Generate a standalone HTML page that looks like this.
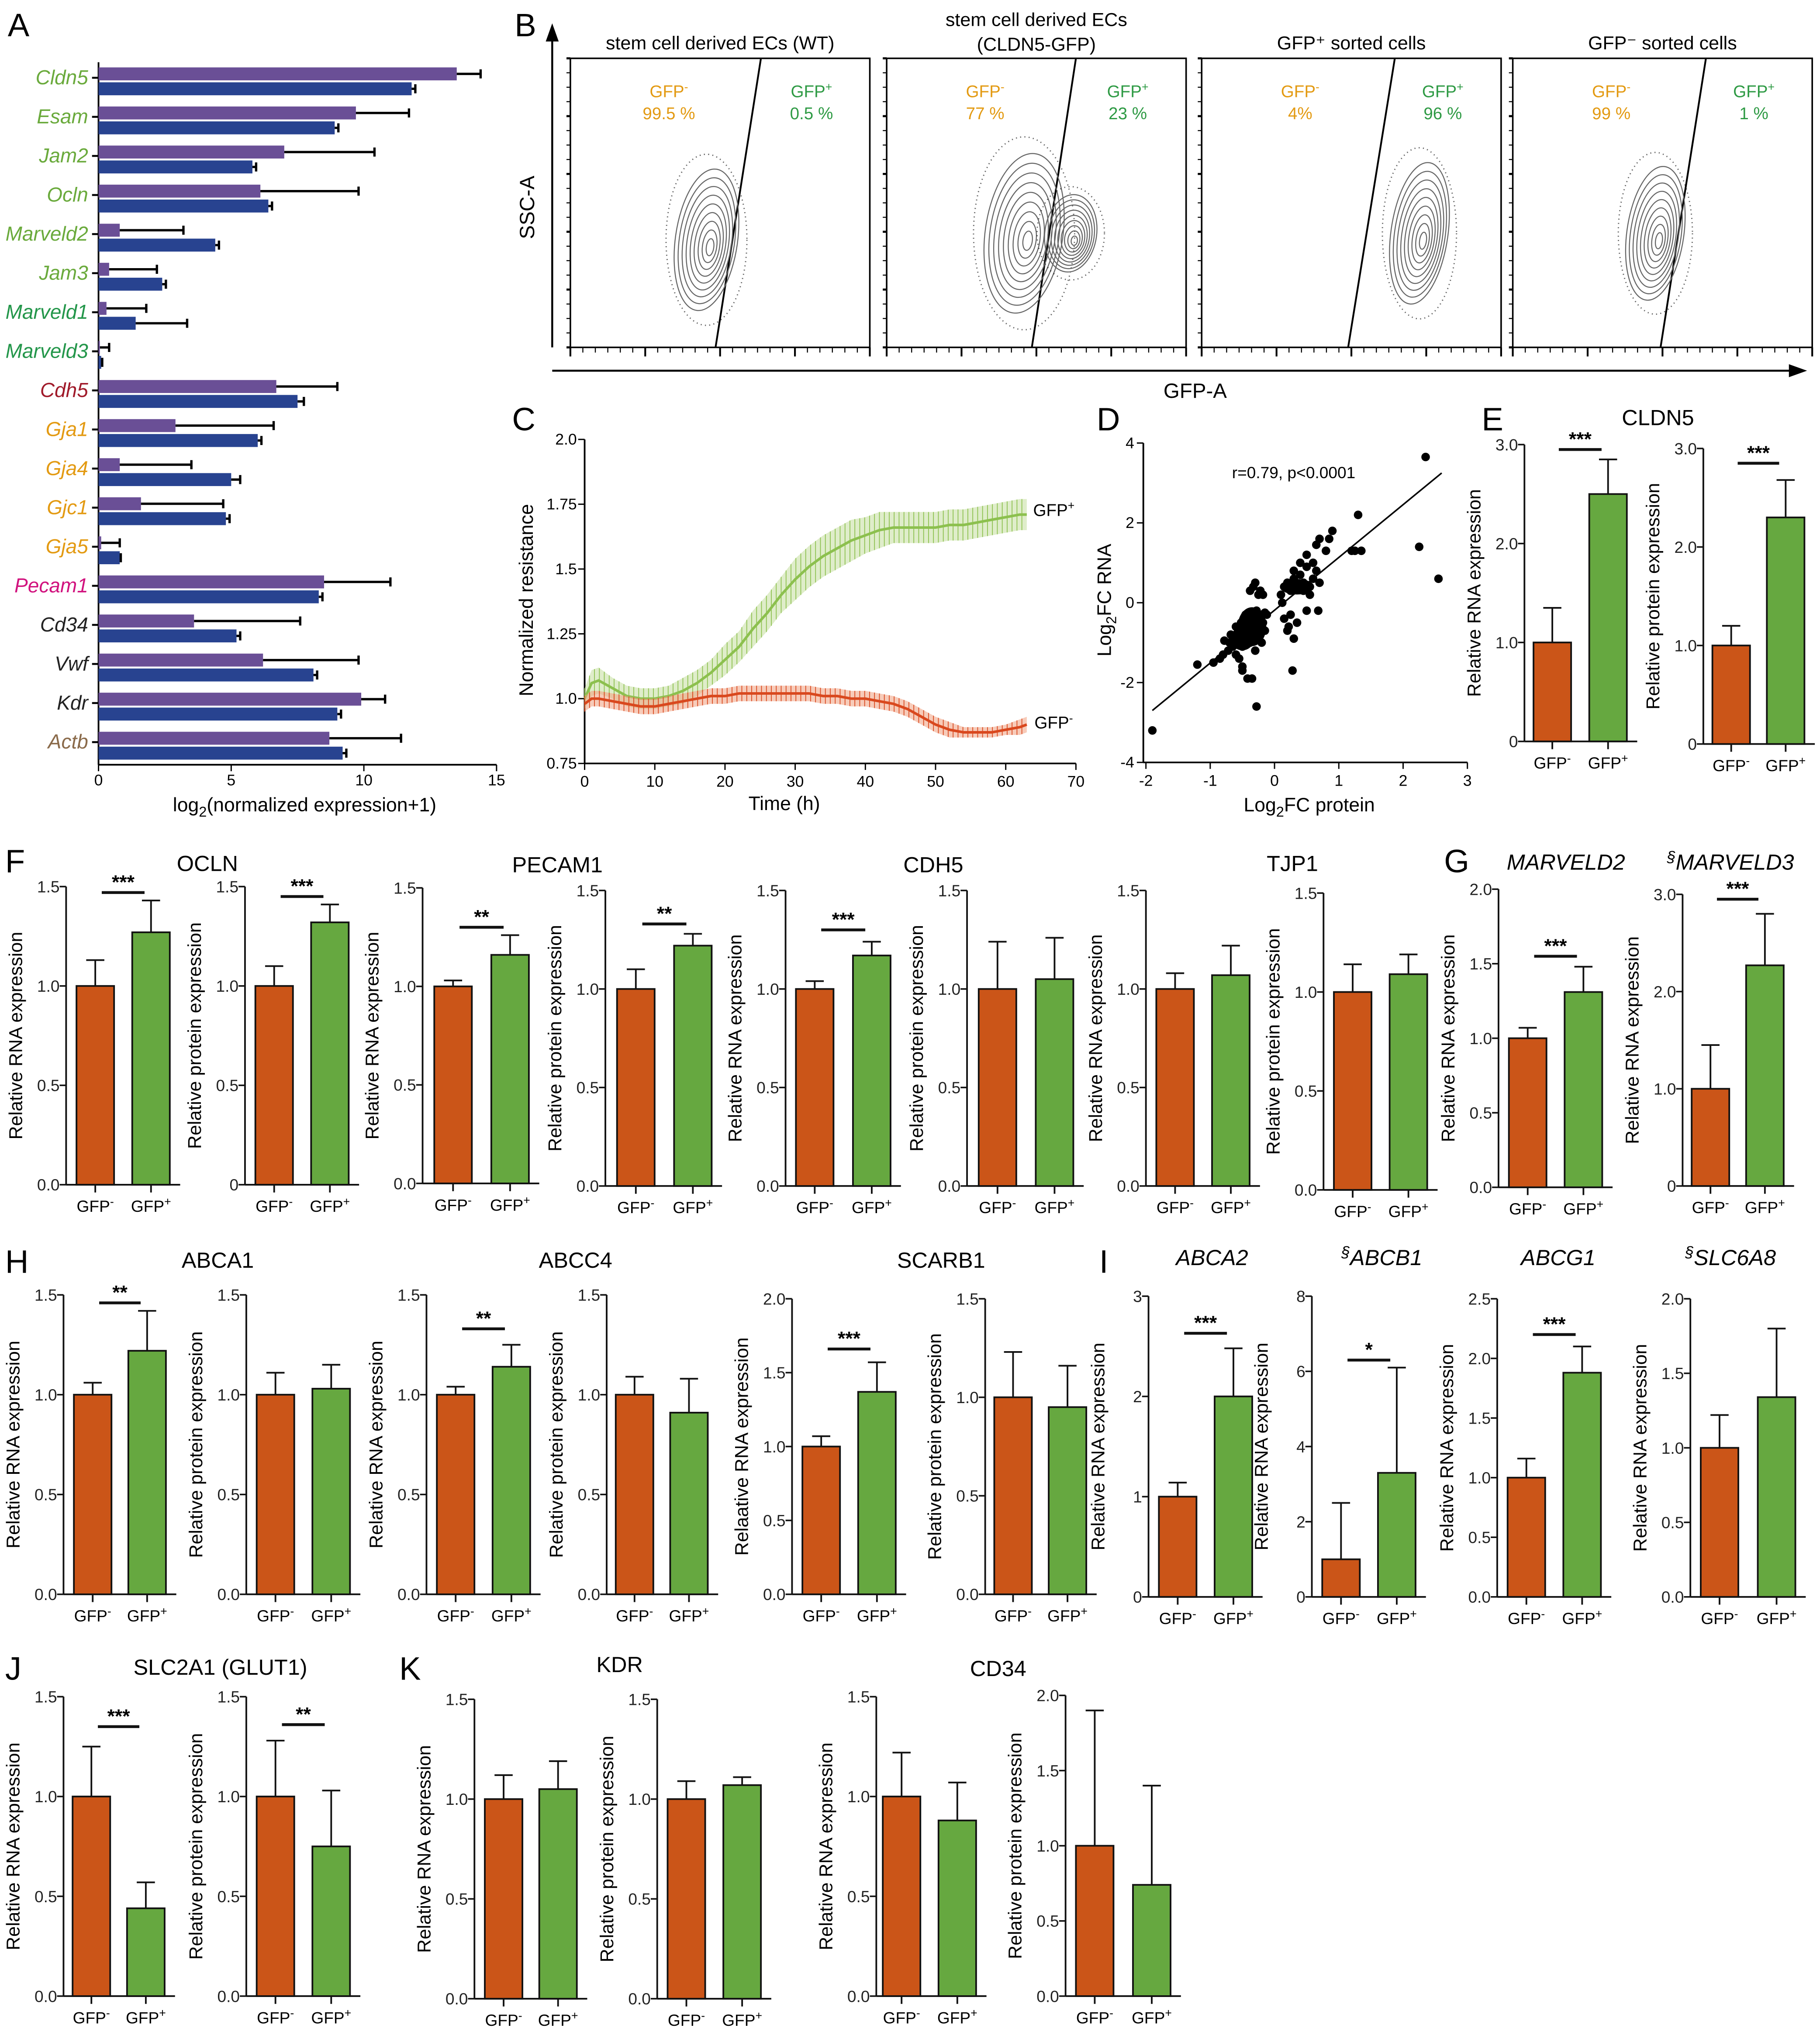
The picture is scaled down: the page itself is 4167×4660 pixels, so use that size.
<!DOCTYPE html>
<html><head><meta charset="utf-8"><style>
html,body{margin:0;padding:0;background:#fff}
svg{display:block}
text{font-family:"Liberation Sans",sans-serif}
</style></head><body>
<svg id="fig" xmlns="http://www.w3.org/2000/svg" width="4167" height="4660" viewBox="0 0 1404 1570" preserveAspectRatio="none">
<rect width="1404" height="1570" fill="#fff"/>
<g id="letters" font-size="25">
<text x="6" y="28">A</text><text x="397" y="28">B</text><text x="395" y="332">C</text><text x="846" y="332">D</text>
<text x="1143" y="332">E</text><text x="4" y="673">F</text><text x="1114" y="673">G</text><text x="4" y="982">H</text>
<text x="848" y="982">I</text><text x="4" y="1296">J</text><text x="308" y="1296">K</text>
</g>
<g id="gA"></g>
<g id="gB"></g>
<g id="gC"></g>
<g id="gD"></g>
<g id="gBars"></g>
</svg>
<script>
// ---------- Panel A data ----------
const genesA=["Cldn5","Esam","Jam2","Ocln","Marveld2","Jam3","Marveld1","Marveld3","Cdh5","Gja1","Gja4","Gjc1","Gja5","Pecam1","Cd34","Vwf","Kdr","Actb"];
const geneColorsA=["#6aaa3c","#6aaa3c","#6aaa3c","#6aaa3c","#6aaa3c","#6aaa3c","#23964a","#23964a","#a01a2a","#e39a12","#e39a12","#e39a12","#e39a12","#d1127e","#222","#222","#222","#8a6a4a"];
const purpleA=[13.5,9.7,7.0,6.1,0.8,0.4,0.3,0.05,6.7,2.9,0.8,1.6,0.1,8.5,3.6,6.2,9.9,8.7];
const purpleErrA=[14.4,11.7,10.4,9.8,3.2,2.2,1.8,0.4,9.0,6.6,3.5,4.7,0.8,11.0,7.6,9.8,10.8,11.4];
const blueA=[11.8,8.9,5.8,6.4,4.4,2.4,1.4,0.1,7.5,6.0,5.0,4.8,0.8,8.3,5.2,8.1,9.0,9.2];
const blueErrA=[11.9,9.0,5.9,6.5,4.5,2.5,3.3,0.1,7.7,6.1,5.3,4.9,0.8,8.4,5.3,8.2,9.1,9.3];
const ticksA=[0,5,10,15];
// ---------- Panel C data ----------
const timeC=[0,1,2,4,6,8,10,12,14,16,18,20,22,24,26,28,30,32,34,36,38,40,42,44,46,48,50,52,54,56,58,60,62,63];
const gfpPosC=[1.0,1.06,1.07,1.04,1.01,1.0,1.0,1.01,1.03,1.06,1.10,1.15,1.20,1.27,1.33,1.40,1.46,1.51,1.55,1.58,1.61,1.63,1.65,1.66,1.66,1.66,1.66,1.67,1.67,1.68,1.69,1.70,1.71,1.71];
const gfpPosErrC=[0.04,0.05,0.05,0.04,0.04,0.04,0.04,0.04,0.05,0.05,0.05,0.06,0.06,0.07,0.07,0.07,0.08,0.08,0.08,0.08,0.08,0.07,0.07,0.06,0.06,0.06,0.06,0.06,0.06,0.06,0.06,0.06,0.06,0.06];
const gfpNegC=[0.98,1.0,1.0,0.99,0.98,0.97,0.97,0.98,0.99,1.0,1.01,1.01,1.02,1.02,1.02,1.02,1.02,1.02,1.01,1.01,1.0,1.0,0.99,0.98,0.96,0.93,0.90,0.88,0.87,0.87,0.87,0.88,0.89,0.90];
const gfpNegErrC=[0.03,0.03,0.03,0.03,0.03,0.03,0.03,0.03,0.03,0.03,0.03,0.03,0.03,0.03,0.03,0.03,0.03,0.03,0.03,0.03,0.03,0.03,0.03,0.03,0.03,0.03,0.03,0.03,0.02,0.02,0.02,0.02,0.03,0.03];
const ticksCy=[0.75,1.0,1.25,1.5,1.75,2.0];
const tickLabelsCy=["0.75","1.0","1.25","1.5","1.75","2.0"];
const ticksCx=[0,10,20,30,40,50,60,70];
// ---------- Panel D data ----------
const protD=[-1.9,-1.2,-0.95,-0.85,-0.8,-0.78,-0.72,-0.7,-0.68,-0.65,-0.62,-0.6,-0.58,-0.55,-0.52,-0.5,-0.48,-0.45,-0.42,-0.4,-0.38,-0.35,-0.32,-0.3,-0.28,-0.25,-0.22,-0.2,-0.18,-0.15,-0.12,-0.5,-0.55,-0.35,-0.28,-0.45,-0.4,-0.3,-0.2,-0.15,-0.38,-0.3,-0.22,-0.6,-0.5,-0.42,-0.33,-0.25,-0.18,0.1,0.15,0.2,0.25,0.3,0.35,0.4,0.45,0.5,0.55,0.6,0.65,0.7,0.15,0.25,0.35,0.45,0.55,0.3,0.4,0.5,0.6,0.2,0.12,0.22,0.3,0.25,0.8,0.85,0.9,0.7,0.65,1.2,1.25,1.35,1.3,2.25,2.35,2.55,0.28,-0.28,0.68,0.5];
const rnaD=[-3.2,-1.55,-1.5,-1.4,-1.3,-0.95,-1.2,-1.0,-0.8,-1.1,-0.9,-0.6,-1.0,-0.8,-0.5,-1.1,-0.7,-0.9,-0.6,-0.4,-1.0,-0.7,-0.5,-0.3,-0.8,-0.6,-0.4,-0.3,-0.5,-0.25,-0.3,-1.7,-1.4,-1.9,-0.2,-0.3,-0.6,-1.2,-1.0,-0.7,0.3,0.5,0.3,-1.3,-1.6,-1.9,0.4,0.2,0.2,0.2,0.4,0.5,0.3,0.6,0.4,0.7,0.5,0.9,0.4,0.6,0.8,0.5,-0.4,-0.3,-0.5,0.3,0.2,0.8,1.0,1.2,1.0,-0.7,0.0,-0.6,-0.9,-0.3,1.3,1.6,1.8,1.6,1.45,1.3,1.3,1.3,2.2,1.4,3.65,0.6,-1.7,-2.6,-0.2,-0.2];
const ticksDx=[-2,-1,0,1,2,3];
const ticksDy=[-4,-2,0,2,4];
// ---------- Bar panel data ----------
const CLDN5_rna=[1.0,2.5], CLDN5_rna_err=[1.35,2.85];
const CLDN5_prot=[1.0,2.3], CLDN5_prot_err=[1.2,2.68];
const OCLN_rna=[1.0,1.27], OCLN_rna_err=[1.13,1.43];
const OCLN_prot=[1.0,1.32], OCLN_prot_err=[1.1,1.41];
const PECAM1_rna=[1.0,1.16], PECAM1_rna_err=[1.03,1.26];
const PECAM1_prot=[1.0,1.22], PECAM1_prot_err=[1.1,1.28];
const CDH5_rna=[1.0,1.17], CDH5_rna_err=[1.04,1.24];
const CDH5_prot=[1.0,1.05], CDH5_prot_err=[1.24,1.26];
const TJP1_rna=[1.0,1.07], TJP1_rna_err=[1.08,1.22];
const TJP1_prot=[1.0,1.09], TJP1_prot_err=[1.14,1.19];
const MARVELD2_rna=[1.0,1.31], MARVELD2_rna_err=[1.07,1.48];
const MARVELD3_rna=[1.0,2.27], MARVELD3_rna_err=[1.45,2.8];
const ABCA1_rna=[1.0,1.22], ABCA1_rna_err=[1.06,1.42];
const ABCA1_prot=[1.0,1.03], ABCA1_prot_err=[1.11,1.15];
const ABCC4_rna=[1.0,1.14], ABCC4_rna_err=[1.04,1.25];
const ABCC4_prot=[1.0,0.91], ABCC4_prot_err=[1.09,1.08];
const SCARB1_rna=[1.0,1.37], SCARB1_rna_err=[1.07,1.57];
const SCARB1_prot=[1.0,0.95], SCARB1_prot_err=[1.23,1.16];
const ABCA2_rna=[1.0,2.0], ABCA2_rna_err=[1.14,2.48];
const ABCB1_rna=[1.0,3.3], ABCB1_rna_err=[2.5,6.1];
const ABCG1_rna=[1.0,1.88], ABCG1_rna_err=[1.16,2.1];
const SLC6A8_rna=[1.0,1.34], SLC6A8_rna_err=[1.22,1.8];
const SLC2A1_rna=[1.0,0.44], SLC2A1_rna_err=[1.25,0.57];
const SLC2A1_prot=[1.0,0.75], SLC2A1_prot_err=[1.28,1.03];
const KDR_rna=[1.0,1.05], KDR_rna_err=[1.12,1.19];
const KDR_prot=[1.0,1.07], KDR_prot_err=[1.09,1.11];
const CD34_rna=[1.0,0.88], CD34_rna_err=[1.22,1.07];
const CD34_prot=[1.0,0.74], CD34_prot_err=[1.9,1.4];
const t15=[0,0.5,1.0,1.5], t15L=["0.0","0.5","1.0","1.5"], t15L0=["0","0.5","1.0","1.5"];
const t20=[0,0.5,1.0,1.5,2.0], t20L=["0.0","0.5","1.0","1.5","2.0"];
const t30=[0,1,2,3], t30L=["0","1.0","2.0","3.0"], t3L=["0","1","2","3"];
const t8=[0,2,4,6,8], t8L=["0","2","4","6","8"];
const t25=[0,0.5,1.0,1.5,2.0,2.5], t25L=["0.0","0.5","1.0","1.5","2.0","2.5"];

const NS="http://www.w3.org/2000/svg";
function mk(tag,attrs,parent,txt){const e=document.createElementNS(NS,tag);for(const k in attrs)e.setAttribute(k,attrs[k]);if(txt!==undefined)e.textContent=txt;parent.appendChild(e);return e;}

// ---------- Panel A ----------
(function(){
 const g=document.getElementById('gA');
 const x0=76, pxu=20.47, yRow0=60, dy=30.15;
 const xs=v=>x0+v*pxu;
 mk('line',{x1:x0,y1:48,x2:x0,y2:590,stroke:'#000','stroke-width':1.3},g);
 mk('line',{x1:x0,y1:590,x2:xs(15),y2:590,stroke:'#000','stroke-width':1.3},g);
 ticksA.forEach(t=>{mk('line',{x1:xs(t),y1:590,x2:xs(t),y2:595,stroke:'#000'},g);const tl=mk('text',{x:xs(t),y:606,'font-size':12,'text-anchor':'middle'},g,String(t));});
 genesA.forEach((gn,i)=>{
  const yc=yRow0+i*dy;
  mk('line',{x1:x0-5,y1:yc,x2:x0,y2:yc,stroke:'#000','stroke-width':1.5},g);
  const lb=mk('text',{x:x0-8,y:yc+5,'font-size':15.5,'font-style':'italic','text-anchor':'end',fill:geneColorsA[i]},g,gn);
  
  
  const p=mk('rect',{x:x0,y:yc-8,width:Math.max(purpleA[i]*pxu,0.5),height:10,fill:'#6a4f96'},g);
  
  
  mk('line',{x1:xs(purpleA[i]),y1:yc-3,x2:xs(purpleErrA[i]),y2:yc-3,stroke:'#000','stroke-width':1.8},g);
  mk('line',{x1:xs(purpleErrA[i]),y1:yc-6.5,x2:xs(purpleErrA[i]),y2:yc+0.5,stroke:'#000','stroke-width':1.8},g);
  const b=mk('rect',{x:x0,y:yc+3.5,width:Math.max(blueA[i]*pxu,1),height:10,fill:'#284390'},g);
  
  
  mk('line',{x1:xs(blueA[i]),y1:yc+8.5,x2:xs(blueErrA[i])+0.8,y2:yc+8.5,stroke:'#000','stroke-width':1.8},g);
  mk('line',{x1:xs(blueErrA[i])+0.8,y1:yc+5,x2:xs(blueErrA[i])+0.8,y2:yc+12,stroke:'#000','stroke-width':1.8},g);
 });
 const xl=mk('text',{x:235,y:626,'font-size':15,'text-anchor':'middle'},g);
 
 
 xl.innerHTML='log<tspan font-size="11" dy="4">2</tspan><tspan dy="-4">(normalized expression+1)</tspan>';
})();

// ---------- Panel B ----------
(function(){
 const g=document.getElementById('gB');
 mk('line',{x1:426,y1:28,x2:426,y2:268,stroke:'#000','stroke-width':1.5},g);
 mk('path',{d:'M421,32 L426,18 L431,32 Z',fill:'#000'},g);
 mk('line',{x1:426,y1:286,x2:1385,y2:286,stroke:'#000','stroke-width':1.5},g);
 mk('path',{d:'M1380,281 L1394,286 L1380,291 Z',fill:'#000'},g);
 mk('text',{x:412,y:160,'font-size':16,'text-anchor':'middle',transform:'rotate(-90 412 160)'},g,'SSC-A');
 mk('text',{x:922,y:307,'font-size':16,'text-anchor':'middle'},g,'GFP-A');
 const boxes=[440,684,927,1167];
 const titles=[["stem cell derived ECs (WT)"],["stem cell derived ECs","(CLDN5-GFP)"],["GFP⁺ sorted cells"],["GFP⁻ sorted cells"]];
 const negP=["99.5 %","77 %","4%","99 %"], posP=["0.5 %","23 %","96 %","1 %"];
 const gates=[[552,268,587,45],[796,268,830,45],[1040,268,1076,45],[1281,268,1316,45]];
 const blobs=[[[545,185,24,55]],[[790,180,30,62],[826,180,20,30]],[[1095,180,22,55]],[[1277,180,22,52]]];
 boxes.forEach((bx,i)=>{
  const w=231;
  mk('rect',{x:bx,y:45,width:w,height:223,fill:'none',stroke:'#000','stroke-width':1.2},g);
  for(let k=0;k<=20;k++){const ty=45+k*223/20;mk('line',{x1:bx-3,y1:ty,x2:bx,y2:ty,stroke:'#000','stroke-width':k%4==0?1.6:0.8},g);}
  for(let k=0;k<=24;k++){const tx=bx+k*w/24;mk('line',{x1:tx,y1:268,x2:tx,y2:k%6==0?275:272,stroke:'#000','stroke-width':k%6==0?1.4:0.8},g);}
  titles[i].forEach((tt,j)=>mk('text',{x:bx+w/2,y:titles[i].length==2?(20+j*19):38,'font-size':14.5,'text-anchor':'middle'},g,tt));
  const gl=gates[i];
  mk('line',{x1:gl[0],y1:gl[1],x2:gl[2],y2:gl[3],stroke:'#000','stroke-width':1.4},g);
  mk('text',{x:bx+76,y:75,'font-size':13,'text-anchor':'middle',fill:'#e39a12'},g).innerHTML='GFP<tspan dy="-5" font-size="9">-</tspan>';
  mk('text',{x:bx+76,y:92,'font-size':13,'text-anchor':'middle',fill:'#e39a12'},g,negP[i]);
  mk('text',{x:bx+186,y:75,'font-size':13,'text-anchor':'middle',fill:'#2e9a44'},g).innerHTML='GFP<tspan dy="-5" font-size="9">+</tspan>';
  mk('text',{x:bx+186,y:92,'font-size':13,'text-anchor':'middle',fill:'#2e9a44'},g,posP[i]);
  blobs[i].forEach(bl=>{
   for(let r=1;r>0.1;r-=0.11){mk('ellipse',{cx:bl[0]+(1-r)*4,cy:bl[1]+(1-r)*6,rx:bl[2]*r,ry:bl[3]*r,fill:'none',stroke:'#666','stroke-width':0.8,transform:`rotate(8 ${bl[0]} ${bl[1]})`},g);}
   mk('ellipse',{cx:bl[0],cy:bl[1],rx:bl[2]*1.3,ry:bl[3]*1.2,fill:'none',stroke:'#000','stroke-width':1.0,'stroke-dasharray':'0.8 2.5',opacity:0.6},g);
  });
 });
})();

// ---------- Panel C ----------
(function(){
 const g=document.getElementById('gC');
 const X=t=>451+t*(830-451)/70, Y=v=>589-(v-0.75)*(589-339)/1.25;
 mk('line',{x1:451,y1:339,x2:451,y2:589,stroke:'#000','stroke-width':1.3},g);
 mk('line',{x1:451,y1:589,x2:X(70),y2:589,stroke:'#000','stroke-width':1.3},g);
 ticksCy.forEach((v,i)=>{mk('line',{x1:446,y1:Y(v),x2:451,y2:Y(v),stroke:'#000'},g);mk('text',{x:445,y:Y(v)+4,'font-size':12,'text-anchor':'end'},g,tickLabelsCy[i]);});
 ticksCx.forEach(t=>{mk('line',{x1:X(t),y1:589,x2:X(t),y2:594,stroke:'#000'},g);mk('text',{x:X(t),y:607,'font-size':12,'text-anchor':'middle'},g,String(t));});
 function band(mean,err,col,lcol,name){
  const up=timeC.map((t,i)=>X(t)+','+Y(mean[i]+err[i])).join(' ');
  const dn=timeC.map((t,i)=>X(t)+','+Y(mean[i]-err[i])).reverse().join(' ');
  const b=mk('polygon',{points:up+' '+dn,fill:col,opacity:0.55},g);
  
  
  for(let t=0;t<=63;t+=0.7){let i=0;while(i<timeC.length-2&&timeC[i+1]<t)i++;const f=(t-timeC[i])/(timeC[i+1]-timeC[i]);const m=mean[i]+(mean[i+1]-mean[i])*f, e=err[i]+(err[i+1]-err[i])*f;mk('line',{x1:X(t),y1:Y(m+e),x2:X(t),y2:Y(m-e),stroke:lcol,'stroke-width':0.6},g);}
  const l=mk('polyline',{points:timeC.map((t,i)=>X(t)+','+Y(mean[i])).join(' '),fill:'none',stroke:lcol,'stroke-width':2},g);
  
  
 }
 band(gfpPosC,gfpPosErrC,'#c5df9f','#8cc04e','gfp-pos');
 band(gfpNegC,gfpNegErrC,'#f0a080','#d9481e','gfp-neg');
 mk('text',{x:797,y:398,'font-size':13},g).innerHTML='GFP<tspan dy="-5" font-size="9">+</tspan>';
 mk('text',{x:798,y:562,'font-size':13},g).innerHTML='GFP<tspan dy="-5" font-size="9">-</tspan>';
 mk('text',{x:411,y:463,'font-size':15,'text-anchor':'middle',transform:'rotate(-90 411 463)'},g,'Normalized resistance');
 mk('text',{x:605,y:625,'font-size':15,'text-anchor':'middle'},g,'Time (h)');
})();

// ---------- Panel D ----------
(function(){
 const g=document.getElementById('gD');
 const X=v=>884+(v+2)*49.6, Y=v=>465-v*30.8;
 mk('line',{x1:X(-2)-2,y1:Y(4),x2:X(-2)-2,y2:Y(-4),stroke:'#000','stroke-width':1.3},g);
 mk('line',{x1:X(-2)-2,y1:Y(-4),x2:X(3),y2:Y(-4),stroke:'#000','stroke-width':1.3},g);
 ticksDy.forEach(v=>{mk('line',{x1:X(-2)-7,y1:Y(v),x2:X(-2)-2,y2:Y(v),stroke:'#000'},g);mk('text',{x:X(-2)-9,y:Y(v)+4,'font-size':12,'text-anchor':'end'},g,String(v));});
 ticksDx.forEach(v=>{mk('line',{x1:X(v),y1:Y(-4),x2:X(v),y2:Y(-4)+5,stroke:'#000'},g);mk('text',{x:X(v),y:Y(-4)+18,'font-size':12,'text-anchor':'middle'},g,String(v));});
 mk('ellipse',{cx:X(-0.35),cy:Y(-0.6),rx:11,ry:15,fill:'#000'},g);
 mk('ellipse',{cx:X(-0.5),cy:Y(-0.9),rx:9,ry:9,fill:'#000'},g);
 mk('ellipse',{cx:X(0.35),cy:Y(0.4),rx:13,ry:6,fill:'#000'},g);
 protD.forEach((p,i)=>{const c=mk('circle',{cx:X(p),cy:Y(rnaD[i]),r:3.3,fill:'#000'},g);});
 mk('line',{x1:X(-1.9),y1:Y(-2.7),x2:X(2.6),y2:Y(3.25),stroke:'#000','stroke-width':1.2},g);
 mk('text',{x:998,y:369,'font-size':12.5,'text-anchor':'middle'},g,'r=0.79, p<0.0001');
 mk('text',{x:1010,y:626,'font-size':15,'text-anchor':'middle'},g).innerHTML='Log<tspan font-size="11" dy="4">2</tspan><tspan dy="-4">FC protein</tspan>';
 mk('text',{x:857,y:463,'font-size':15,'text-anchor':'middle',transform:'rotate(-90 857 463)'},g).innerHTML='Log<tspan font-size="11" dy="4">2</tspan><tspan dy="-4">FC RNA</tspan>';
})();

// ---------- Bar panels ----------
const gB=document.getElementById('gBars');
function barPanel(c){
 const g=mk('g',{},gB);
 
 
 const Y=v=>c.y0-v*(c.y0-c.yt)/c.max;
 const bw=29, xr=c.b2+bw+8;
 mk('line',{x1:c.ax,y1:c.yt,x2:c.ax,y2:c.y0,stroke:'#111','stroke-width':1.3},g);
 mk('line',{x1:c.ax,y1:c.y0,x2:xr,y2:c.y0,stroke:'#111','stroke-width':1.3},g);
 c.ticks.forEach((t,i)=>{mk('line',{x1:c.ax-5,y1:Y(t),x2:c.ax,y2:Y(t),stroke:'#111','stroke-width':1.2},g);mk('text',{x:c.ax-5,y:Y(t)+4.5,'font-size':12.5,'text-anchor':'end',fill:'#222'},g,c.tl[i]);});
 [c.b1,c.b2].forEach((bx,i)=>{
  const r=mk('rect',{x:bx,y:Y(c.mean[i]),width:bw,height:c.y0-Y(c.mean[i]),fill:i?'#66a840':'#cb5518',stroke:'#111','stroke-width':1.3},g);
  
  
  const cx=bx+bw/2;
  mk('line',{x1:cx,y1:Y(c.mean[i]),x2:cx,y2:Y(c.err[i]),stroke:'#111','stroke-width':1.3},g);
  mk('line',{x1:cx-7,y1:Y(c.err[i]),x2:cx+7,y2:Y(c.err[i]),stroke:'#111','stroke-width':1.3},g);
  mk('line',{x1:cx,y1:c.y0,x2:cx,y2:c.y0+6,stroke:'#111','stroke-width':1.3},g);
  mk('text',{x:cx,y:c.y0+21,'font-size':12.5,'text-anchor':'middle'},g).innerHTML='GFP<tspan dy="-5" font-size="9">'+(i?'+':'-')+'</tspan>';
 });
 if(c.sig){const sy=Y(c.sigv);mk('line',{x1:c.b1+bw/2+5,y1:sy,x2:c.b2+bw/2-5,y2:sy,stroke:'#111','stroke-width':2.2},g);mk('text',{x:(c.b1+c.b2)/2+bw/2,y:sy-3,'font-size':15,'font-weight':'bold','text-anchor':'middle'},g,c.sig);}
 const lx=c.ax-34, ly=(c.yt+c.y0)/2;
 const yl=mk('text',{x:lx,y:ly,'font-size':14.5,'text-anchor':'middle',transform:`rotate(-90 ${lx} ${ly})`},g,c.ylab);
 
 
}
function title(x,y,s,it){const t=mk('text',{x:x,y:y,'font-size':17,'text-anchor':'middle','font-style':it?'italic':'normal'},gB);t.innerHTML=s;}
const RNA="Relative  RNA expression", PROT="Relative  protein expression";
const panels=[
 {name:'cldn5-rna',ax:1176,y0:572,yt:343,max:3,ticks:t30,tl:t30L,b1:1183,b2:1226,mean:CLDN5_rna,err:CLDN5_rna_err,sig:'***',sigv:2.95,ylab:RNA},
 {name:'cldn5-protein',ax:1314,y0:574,yt:346,max:3,ticks:t30,tl:t30L,b1:1321,b2:1363,mean:CLDN5_prot,err:CLDN5_prot_err,sig:'***',sigv:2.85,ylab:PROT},
 {name:'ocln-rna',ax:51,y0:914,yt:684,max:1.5,ticks:t15,tl:t15L,b1:59,b2:102,mean:OCLN_rna,err:OCLN_rna_err,sig:'***',sigv:1.47,ylab:RNA},
 {name:'ocln-protein',ax:189,y0:914,yt:684,max:1.5,ticks:t15,tl:t15L0,b1:197,b2:240,mean:OCLN_prot,err:OCLN_prot_err,sig:'***',sigv:1.45,ylab:PROT},
 {name:'pecam1-rna',ax:326,y0:913,yt:685,max:1.5,ticks:t15,tl:t15L,b1:335,b2:379,mean:PECAM1_rna,err:PECAM1_rna_err,sig:'**',sigv:1.3,ylab:RNA},
 {name:'pecam1-protein',ax:467,y0:915,yt:687,max:1.5,ticks:t15,tl:t15L,b1:476,b2:520,mean:PECAM1_prot,err:PECAM1_prot_err,sig:'**',sigv:1.33,ylab:PROT},
 {name:'cdh5-rna',ax:606,y0:915,yt:687,max:1.5,ticks:t15,tl:t15L,b1:614,b2:658,mean:CDH5_rna,err:CDH5_rna_err,sig:'***',sigv:1.3,ylab:RNA},
 {name:'cdh5-protein',ax:746,y0:915,yt:687,max:1.5,ticks:t15,tl:t15L,b1:755,b2:799,mean:CDH5_prot,err:CDH5_prot_err,ylab:PROT},
 {name:'tjp1-rna',ax:884,y0:915,yt:687,max:1.5,ticks:t15,tl:t15L,b1:892,b2:935,mean:TJP1_rna,err:TJP1_rna_err,ylab:RNA},
 {name:'tjp1-protein',ax:1021,y0:918,yt:689,max:1.5,ticks:t15,tl:t15L,b1:1029,b2:1072,mean:TJP1_prot,err:TJP1_prot_err,ylab:PROT},
 {name:'marveld2-rna',ax:1156,y0:916,yt:686,max:2,ticks:t20,tl:t20L,b1:1164,b2:1207,mean:MARVELD2_rna,err:MARVELD2_rna_err,sig:'***',sigv:1.55,ylab:RNA},
 {name:'marveld3-rna',ax:1298,y0:915,yt:690,max:3,ticks:t30,tl:t30L,b1:1305,b2:1347,mean:MARVELD3_rna,err:MARVELD3_rna_err,sig:'***',sigv:2.95,ylab:RNA},
 {name:'abca1-rna',ax:49,y0:1230,yt:999,max:1.5,ticks:t15,tl:t15L,b1:57,b2:99,mean:ABCA1_rna,err:ABCA1_rna_err,sig:'**',sigv:1.46,ylab:RNA},
 {name:'abca1-protein',ax:190,y0:1230,yt:999,max:1.5,ticks:t15,tl:t15L,b1:198,b2:241,mean:ABCA1_prot,err:ABCA1_prot_err,ylab:"Relative protein expression"},
 {name:'abcc4-rna',ax:329,y0:1230,yt:999,max:1.5,ticks:t15,tl:t15L,b1:337,b2:380,mean:ABCC4_rna,err:ABCC4_rna_err,sig:'**',sigv:1.33,ylab:"Relative RNA expression"},
 {name:'abcc4-protein',ax:468,y0:1230,yt:999,max:1.5,ticks:t15,tl:t15L,b1:475,b2:517,mean:ABCC4_prot,err:ABCC4_prot_err,ylab:"Relative protein expression"},
 {name:'scarb1-rna',ax:611,y0:1230,yt:1002,max:2,ticks:t20,tl:t20L,b1:619,b2:662,mean:SCARB1_rna,err:SCARB1_rna_err,sig:'***',sigv:1.66,ylab:"Relaative RNA expression"},
 {name:'scarb1-protein',ax:760,y0:1230,yt:1002,max:1.5,ticks:t15,tl:t15L,b1:767,b2:809,mean:SCARB1_prot,err:SCARB1_prot_err,ylab:"Relative protein expression"},
 {name:'abca2-rna',ax:886,y0:1232,yt:1000,max:3,ticks:t30,tl:t3L,b1:894,b2:937,mean:ABCA2_rna,err:ABCA2_rna_err,sig:'***',sigv:2.63,ylab:"Relative RNA expression"},
 {name:'abcb1-rna',ax:1012,y0:1232,yt:1000,max:8,ticks:t8,tl:t8L,b1:1020,b2:1063,mean:ABCB1_rna,err:ABCB1_rna_err,sig:'*',sigv:6.3,ylab:"Relative RNA expression"},
 {name:'abcg1-rna',ax:1155,y0:1232,yt:1002,max:2.5,ticks:t25,tl:t25L,b1:1163,b2:1206,mean:ABCG1_rna,err:ABCG1_rna_err,sig:'***',sigv:2.2,ylab:"Relative RNA expression"},
 {name:'slc6a8-rna',ax:1304,y0:1232,yt:1002,max:2,ticks:t20,tl:t20L,b1:1312,b2:1356,mean:SLC6A8_rna,err:SLC6A8_rna_err,ylab:"Relative RNA expression"},
 {name:'slc2a1-rna',ax:49,y0:1540,yt:1309,max:1.5,ticks:t15,tl:t15L,b1:56,b2:98,mean:SLC2A1_rna,err:SLC2A1_rna_err,sig:'***',sigv:1.35,ylab:"Relative RNA expression"},
 {name:'slc2a1-protein',ax:190,y0:1540,yt:1309,max:1.5,ticks:t15,tl:t15L,b1:198,b2:241,mean:SLC2A1_prot,err:SLC2A1_prot_err,sig:'**',sigv:1.36,ylab:"Relative protein expression"},
 {name:'kdr-rna',ax:366,y0:1542,yt:1311,max:1.5,ticks:t15,tl:t15L,b1:374,b2:416,mean:KDR_rna,err:KDR_rna_err,ylab:RNA},
 {name:'kdr-protein',ax:507,y0:1542,yt:1311,max:1.5,ticks:t15,tl:t15L,b1:515,b2:558,mean:KDR_prot,err:KDR_prot_err,ylab:PROT},
 {name:'cd34-rna',ax:676,y0:1540,yt:1309,max:1.5,ticks:t15,tl:t15L,b1:681,b2:724,mean:CD34_rna,err:CD34_rna_err,ylab:RNA},
 {name:'cd34-protein',ax:822,y0:1540,yt:1308,max:2,ticks:t20,tl:t20L,b1:830,b2:874,mean:CD34_prot,err:CD34_prot_err,ylab:PROT}
];
panels.forEach(barPanel);
title(1279,328,'CLDN5');title(160,672,'OCLN');title(430,673,'PECAM1');title(720,673,'CDH5');title(997,672,'TJP1');
title(1208,671,'MARVELD2',1);title(1335,671,'<tspan font-size="12" dy="-6">§</tspan><tspan dy="6">MARVELD3</tspan>',1);
title(168,978,'ABCA1');title(444,978,'ABCC4');title(726,978,'SCARB1');
title(935,976,'ABCA2',1);title(1066,976,'<tspan font-size="12" dy="-6">§</tspan><tspan dy="6">ABCB1</tspan>',1);title(1202,976,'ABCG1',1);title(1335,976,'<tspan font-size="12" dy="-6">§</tspan><tspan dy="6">SLC6A8</tspan>',1);
title(170,1292,'SLC2A1 (GLUT1)');title(478,1290,'KDR');title(770,1293,'CD34');
</script>
</body></html>
